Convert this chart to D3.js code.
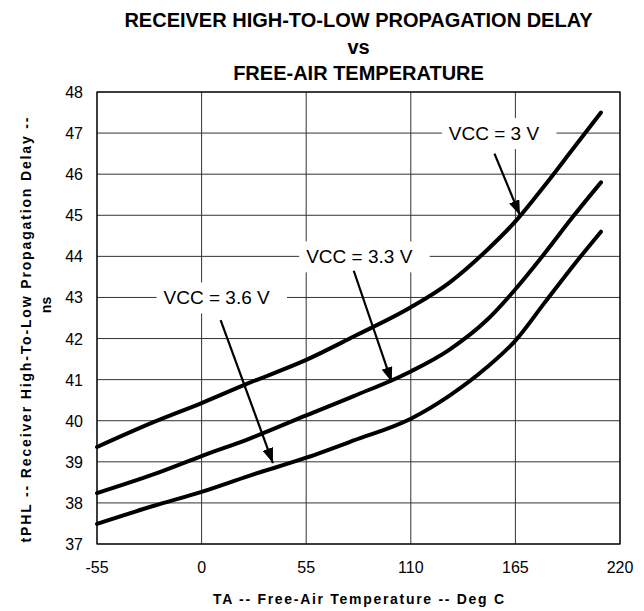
<!DOCTYPE html>
<html>
<head>
<meta charset="utf-8">
<script src="https://cdn.jsdelivr.net/npm/d3@7"></script>
<style>
  html, body { margin: 0; padding: 0; background: #fff; overflow: hidden; }
  svg { display: block; }
  text { font-family: Arial, "Liberation Sans", sans-serif; fill: #000; }
  .title { font-size: 20px; font-weight: bold; }
  .axis-label { font-size: 14px; font-weight: bold; }
  .tick-label { font-size: 16px; }
  .note { font-size: 19px; }
</style>
</head>
<body>
<div id="main"></div>
<script>
const temps = [-55, -25, 0, 25, 55, 80, 110, 130, 150, 165, 180, 195, 210];
const vcc30 = [39.36, 39.97, 40.43, 40.92, 41.48, 42.05, 42.76, 43.35, 44.15, 44.85, 45.7, 46.6, 47.5];
const vcc33 = [38.24, 38.7, 39.14, 39.56, 40.13, 40.6, 41.2, 41.72, 42.45, 43.2, 44.05, 44.95, 45.8];
const vcc36 = [37.49, 37.93, 38.27, 38.66, 39.1, 39.52, 40.05, 40.6, 41.3, 41.95, 42.85, 43.75, 44.6];

const xTicks = [-55, 0, 55, 110, 165, 220];
const yTicks = [37, 38, 39, 40, 41, 42, 43, 44, 45, 46, 47, 48];

const noteNames = ['VCC = 3 V', 'VCC = 3.3 V', 'VCC = 3.6 V'];
const noteAt = [[130, 47], [55, 44], [-20, 43]];
const arrowFrom = [[154, 46.5], [80, 43.65], [10, 42.45]];
const arrowTo = [[167.4, 45.0], [100, 40.94], [37.5, 38.97]];

const titleLines = ['RECEIVER HIGH-TO-LOW PROPAGATION DELAY', 'vs', 'FREE-AIR TEMPERATURE'];

const width = 644;
const height = 611;
const margin = { top: 92, right: 24, bottom: 67, left: 97 };
const innerWidth = width - margin.left - margin.right;
const innerHeight = height - margin.top - margin.bottom;

const svg = d3.select('#main')
  .append('svg')
  .attr('width', width)
  .attr('height', height);

const xScale = d3.scaleLinear().domain([-55, 220]).range([0, innerWidth]);
const yScale = d3.scaleLinear().domain([37, 48]).range([innerHeight, 0]);

const g = svg.append('g')
  .attr('transform', `translate(${margin.left},${margin.top})`);

// gridlines
g.selectAll('.vgrid')
  .data(xTicks)
  .join('line')
  .attr('class', 'vgrid')
  .attr('x1', d => xScale(d)).attr('x2', d => xScale(d))
  .attr('y1', 0).attr('y2', innerHeight)
  .attr('stroke', '#333');

g.selectAll('.hgrid')
  .data(yTicks)
  .join('line')
  .attr('class', 'hgrid')
  .attr('x1', 0).attr('x2', innerWidth)
  .attr('y1', d => yScale(d)).attr('y2', d => yScale(d))
  .attr('stroke', '#333');

g.append('rect')
  .attr('width', innerWidth)
  .attr('height', innerHeight)
  .attr('fill', 'none')
  .attr('stroke', '#000')
  .attr('stroke-width', 1.2);

// tick labels
g.selectAll('.xlab')
  .data(xTicks)
  .join('text')
  .attr('class', 'tick-label xlab')
  .attr('x', d => xScale(d))
  .attr('y', innerHeight + 29)
  .attr('text-anchor', 'middle')
  .text(d => String(d));

g.selectAll('.ylab')
  .data(yTicks)
  .join('text')
  .attr('class', 'tick-label ylab')
  .attr('x', -14)
  .attr('y', d => yScale(d) + 6)
  .attr('text-anchor', 'end')
  .text(d => String(d));

// notes with white boxes
noteNames.forEach((name, i) => {
  const ng = g.append('g');
  const box = ng.append('rect').attr('fill', '#fff');
  const t = ng.append('text')
    .attr('class', 'note')
    .attr('x', xScale(noteAt[i][0]))
    .attr('y', yScale(noteAt[i][1]) + 7)
    .text(name);
  const bb = t.node().getBBox();
  box.attr('x', bb.x - 7)
    .attr('y', yScale(noteAt[i][1]) - 15)
    .attr('width', bb.width + 24)
    .attr('height', 31);
});

const line = d3.line()
  .x((d, i) => xScale(temps[i]))
  .y(d => yScale(d))
  .curve(d3.curveMonotoneX);

[vcc30, vcc33, vcc36].forEach(series => {
  g.append('path')
    .attr('d', line(series))
    .attr('fill', 'none')
    .attr('stroke', '#000')
    .attr('stroke-width', 4)
    .attr('stroke-linecap', 'round');
});

svg.append('defs').append('marker')
  .attr('id', 'head')
  .attr('markerUnits', 'userSpaceOnUse')
  .attr('viewBox', '0 0 15 11')
  .attr('markerWidth', 15)
  .attr('markerHeight', 11)
  .attr('refX', 15)
  .attr('refY', 5.5)
  .attr('orient', 'auto')
  .append('path')
  .attr('d', 'M0,0L15,5.5L0,11Z')
  .attr('fill', '#000');

arrowFrom.forEach((p, i) => {
  g.append('line')
    .attr('x1', xScale(p[0]))
    .attr('y1', yScale(p[1]))
    .attr('x2', xScale(arrowTo[i][0]))
    .attr('y2', yScale(arrowTo[i][1]))
    .attr('stroke', '#000')
    .attr('stroke-width', 2.2)
    .attr('marker-end', 'url(#head)');
});

// titles
svg.selectAll('.title')
  .data(titleLines)
  .join('text')
  .attr('class', 'title')
  .attr('x', margin.left + innerWidth / 2)
  .attr('y', (d, i) => 27 + i * 26.5)
  .attr('text-anchor', 'middle')
  .text(d => d);

svg.append('text')
  .attr('class', 'axis-label')
  .attr('x', margin.left + innerWidth / 2)
  .attr('y', 604)
  .attr('text-anchor', 'middle')
  .attr('textLength', 291)
  .attr('lengthAdjust', 'spacing')
  .text('TA -- Free-Air Temperature -- Deg C');

svg.append('text')
  .attr('class', 'axis-label')
  .attr('transform', 'translate(31,330) rotate(-90)')
  .attr('text-anchor', 'middle')
  .attr('textLength', 425)
  .attr('lengthAdjust', 'spacing')
  .text('tPHL -- Receiver High-To-Low Propagation Delay --');

svg.append('text')
  .attr('class', 'axis-label')
  .attr('transform', 'translate(51,305) rotate(-90)')
  .attr('text-anchor', 'middle')
  .text('ns');
</script>
</body>
</html>
